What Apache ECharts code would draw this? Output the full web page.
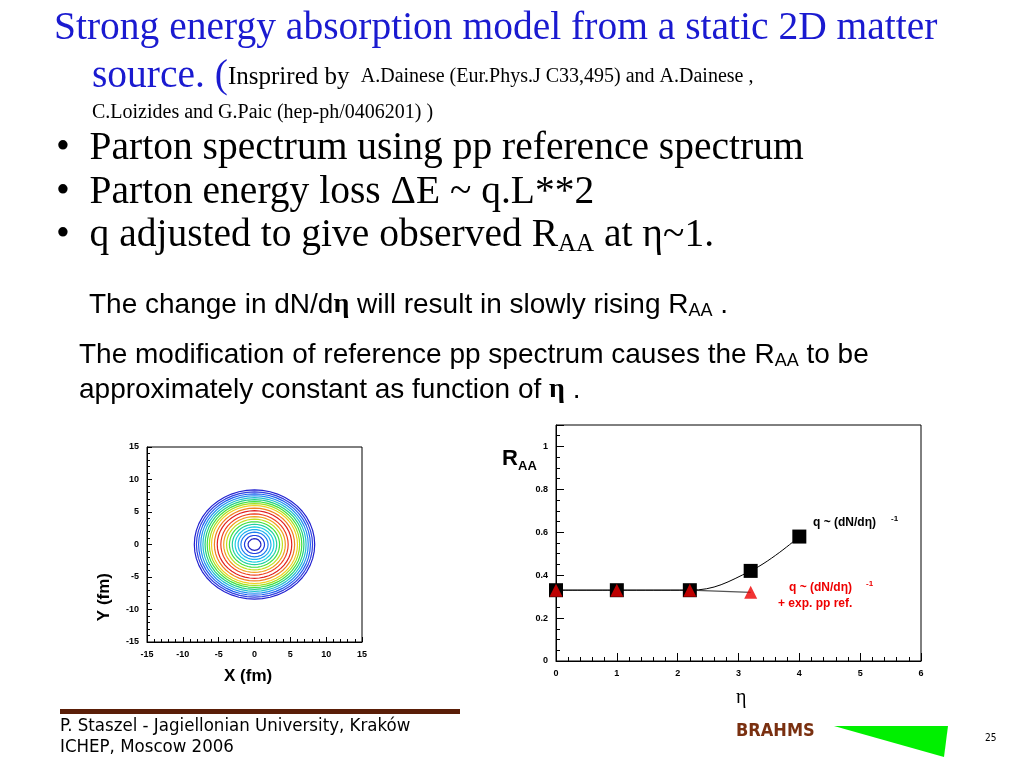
<!DOCTYPE html>
<html><head><meta charset="utf-8">
<script src="https://cdn.jsdelivr.net/npm/echarts@6/dist/echarts.min.js"></script>
<style>html,body{margin:0;padding:0;background:#fff}#c{width:1024px;height:768px}</style>
</head><body><div id="c"></div>
<script>
const etaSquares = [0, 1, 2.2, 3.2, 4];
const raaSquares = [0.33, 0.33, 0.33, 0.42, 0.58];
const etaTriangles = [0, 1, 2.2, 3.2];
const raaTriangles = [0.33, 0.33, 0.33, 0.32];
const contourRadii = [8.4, 8.1, 7.8, 7.5, 7.2, 6.9, 6.6, 6.3, 6.0, 5.6, 5.2, 4.7, 4.3, 3.9, 3.5, 3.1, 2.7, 2.3, 1.9, 1.4, 0.9];
const contourColors = ['#2020d0','#3040e0','#2060f0','#2090f0','#20c0d0','#20d080','#40e040','#a0e020','#f0d020','#f08020','#e02020','#f04020','#f0a020','#c0e020','#40e040','#20d0a0','#20d0e0','#20b0f0','#2080f0','#2040e0','#2020c0'];

const chart = echarts.init(document.getElementById('c'));
const contourSeries = contourRadii.map((r, i) => {
  const pts = [];
  for (let k = 0; k <= 48; k++) { const a = k / 48 * 2 * Math.PI; pts.push([r * Math.cos(a), r * Math.sin(a)]); }
  return {type:'line', xAxisIndex:1, yAxisIndex:1, data:pts, showSymbol:false, silent:true,
    lineStyle:{color:contourColors[i], width:1.2}};
});
const axLbl = {fontFamily:'Liberation Sans', fontWeight:'bold', fontSize:9, color:'#000'};
const serif = 'Liberation Serif';
const blue = '#1a1ad0';
const axl = {onZero:false, lineStyle:{color:'#000'}};
function T(x, y, rich, text) {
  return {type:'text', x:x, y:y, style:{text:text, rich:rich, verticalAlign:'bottom', align:'left'}};
}
const R = {
  t:{fontFamily:serif, fontSize:39.5, fill:blue},
  tb:{fontFamily:serif, fontSize:25, fill:'#000'},
  ts:{fontFamily:serif, fontSize:20, fill:'#000'},
  b:{fontFamily:serif, fontSize:39.5, fill:'#000'},
  bs:{fontFamily:serif, fontSize:25, fill:'#000', padding:[18,0,0,0]},
  s:{fontFamily:'Liberation Sans', fontSize:28, fill:'#000'},
  se:{fontFamily:serif, fontSize:28, fontWeight:'bold', fill:'#000'},
  ss:{fontFamily:'Liberation Sans', fontSize:18, fill:'#000', padding:[12,0,0,0]}
};
chart.setOption({
  animation:false,
  grid:[
    {left:556, top:425, width:365, height:236},
    {left:147, top:447, width:215, height:195}
  ],
  xAxis:[
    {gridIndex:0, type:'value', min:0, max:6, interval:1, axisLine:axl, axisTick:{inside:true, length:8, lineStyle:{color:'#000'}}, minorTick:{show:true, splitNumber:5, length:4, lineStyle:{color:'#000'}}, splitLine:{show:false}, axisLabel:axLbl},
    {gridIndex:1, type:'value', min:-15, max:15, interval:5, axisLine:axl, axisTick:{inside:true, length:5, lineStyle:{color:'#000'}}, minorTick:{show:true, splitNumber:5, length:3, lineStyle:{color:'#000'}}, splitLine:{show:false}, axisLabel:axLbl}
  ],
  yAxis:[
    {gridIndex:0, type:'value', min:0, max:1.1, interval:0.2, axisLine:axl, axisTick:{inside:true, length:8, lineStyle:{color:'#000'}}, minorTick:{show:true, splitNumber:4, length:4, lineStyle:{color:'#000'}}, splitLine:{show:false}, axisLabel:Object.assign({}, axLbl, {showMaxLabel:false, formatter:v=>String(+v.toFixed(1))})},
    {gridIndex:1, type:'value', min:-15, max:15, interval:5, axisLine:axl, axisTick:{inside:true, length:5, lineStyle:{color:'#000'}}, minorTick:{show:true, splitNumber:5, length:3, lineStyle:{color:'#000'}}, splitLine:{show:false}, axisLabel:axLbl}
  ],
  series:[
    {type:'line', data:etaTriangles.map((x,i)=>[x,raaTriangles[i]]), symbol:'none', lineStyle:{color:'#555', width:1.2}},
    {type:'line', data:etaSquares.map((x,i)=>[x,raaSquares[i]]), smooth:0.4, symbol:'rect', symbolSize:14, itemStyle:{color:'#000'}, lineStyle:{color:'#000', width:1}},
    {type:'scatter', data:etaTriangles.map((x,i)=>[x,raaTriangles[i]]), symbol:'triangle', symbolSize:13, itemStyle:{color:'#ee0000'}, z:5}
  ].concat(contourSeries),
  graphic:[
    {type:'rect', shape:{x:556,y:425,width:365,height:236}, style:{fill:null, stroke:'#000', lineWidth:1}, silent:true},
    {type:'rect', shape:{x:147,y:447,width:215,height:195}, style:{fill:null, stroke:'#000', lineWidth:1}, silent:true},
    {type:'text', left:502, top:448, style:{text:'R', font:'bold 22px Liberation Sans', fill:'#000'}},
    {type:'text', left:518, top:460, style:{text:'AA', font:'bold 13px Liberation Sans', fill:'#000'}},
    {type:'text', left:813, top:517, style:{text:'q ~ (dN/dη)', font:'bold 12px Liberation Sans', fill:'#000'}},
    {type:'text', left:891, top:515, style:{text:'-1', font:'bold 8px Liberation Sans', fill:'#000'}},
    {type:'text', left:789, top:582, style:{text:'q ~ (dN/dη)', font:'bold 12px Liberation Sans', fill:'#ee0000'}},
    {type:'text', left:866, top:580, style:{text:'-1', font:'bold 8px Liberation Sans', fill:'#ee0000'}},
    {type:'text', left:778, top:598, style:{text:'+ exp. pp ref.', font:'bold 12px Liberation Sans', fill:'#ee0000'}},
    {type:'text', left:736, top:688, style:{text:'η', font:'20px Liberation Serif', fill:'#000'}},
    {type:'text', left:224, top:668, style:{text:'X (fm)', font:'bold 17px Liberation Sans', fill:'#000'}},
    {type:'text', left:96, top:573, rotation:Math.PI/2, style:{text:'Y (fm)', font:'bold 17px Liberation Sans', fill:'#000'}},
    T(54, 49, R, '{t|Strong energy absorption model from a static 2D matter}'),
    T(92, 97, R, '{t|source. (}{tb|Insprired by }{ts| A.Dainese (Eur.Phys.J C33,495) and A.Dainese ,}'),
    T(92, 123, R, '{ts|C.Loizides and G.Paic (hep-ph/0406201) )}'),
    T(56, 169, R, '{b|•  Parton spectrum using pp reference spectrum}'),
    T(56, 213, R, '{b|•  Parton energy loss ΔE ~ q.L**2}'),
    T(56, 257, R, '{b|•  q adjusted to give observed R}{bs|AA}{b| at η~1.}'),
    T(89, 320, R, '{s|The change in dN/d}{se|η}{s| will result in slowly rising R}{ss|AA}{s| .}'),
    T(79, 370, R, '{s|The modification of reference pp spectrum causes the R}{ss|AA}{s| to be}'),
    T(79, 404, R, '{s|approximately constant as function of }{se|η}{s| .}'),
    {type:'rect', shape:{x:60,y:709,width:400,height:5}, style:{fill:'#5a1e08'}},
    {type:'text', left:60, top:717, style:{text:'P. Staszel - Jagiellonian University, Kraków', font:'18.5px DejaVu Sans Condensed', fill:'#000'}},
    {type:'text', left:60, top:738, style:{text:'ICHEP, Moscow 2006', font:'18.5px DejaVu Sans Condensed', fill:'#000'}},
    {type:'text', left:736, top:722, style:{text:'BRAHMS', font:'bold 18px DejaVu Sans Condensed', fill:'#7a3010'}},
    {type:'polygon', shape:{points:[[834,726],[948,726],[944,757]]}, style:{fill:'#00f000'}},
    {type:'text', left:985, top:733, style:{text:'25', font:'10px DejaVu Sans Condensed', fill:'#000'}}
  ]
});
</script></body></html>
